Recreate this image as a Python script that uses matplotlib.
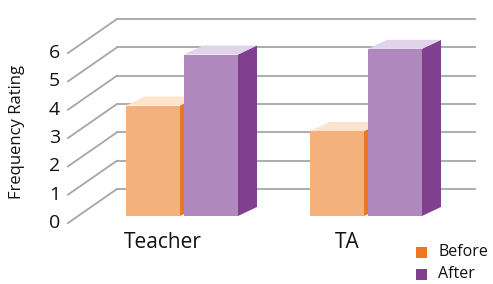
import matplotlib
matplotlib.use("Agg")
import matplotlib.pyplot as plt
from matplotlib.patches import Polygon, Rectangle

plt.rcParams['font.family'] = ['Open Sans', 'DejaVu Sans']

# data
categories = ["Teacher", "TA"]
series_names = ["Before", "After"]
before = [3.9, 3.0]
after = [5.7, 5.9]
y_ticks = [0, 1, 2, 3, 4, 5, 6]
y_label = "Frequency Rating"

# colours: front, side, top
BEFORE_C = ("#F5B17B", "#EE7623", "#FDE4CF")
AFTER_C = ("#AF89BD", "#813F8F", "#E1D3E9")
GRID_C = "#A6A6A6"
TXT = "#111111"

W, H = 493, 284
PX = 28.33          # pixels per rating unit
ZERO = 223          # pixel row of front zero

fig = plt.figure(figsize=(W / 100, H / 100), dpi=100)
ax = fig.add_axes([0, 0, 1, 1])
ax.set_xlim(0, W)
ax.set_ylim(-(H - ZERO) / PX, ZERO / PX)
ax.axis("off")

def py(pix):
    # pixel row -> rating units
    return (ZERO - pix) / PX

# walls: diagonal floor/side lines and horizontal back lines
wall_front_x, wall_back_x, wall_right_x = 68, 117, 475
wall_dv = 34 / PX
for t in y_ticks:
    ax.plot([wall_front_x, wall_back_x], [t, t + wall_dv], color=GRID_C, lw=1.3, zorder=1)
    ax.plot([wall_back_x, wall_right_x], [t + wall_dv, t + wall_dv], color=GRID_C, lw=1.3, zorder=1)
    ax.text(60, t, str(t), ha="right", va="center", fontsize=14, color=TXT)

ax.text(17, py(132), y_label, rotation=90, ha="center", va="center", fontsize=12, color=TXT)

# bars
base = py(216)
bar_w, gap = 54, 4
depth_dx, depth_dv = 19, 9 / PX
group_left = [126, 310]

def bar3d(x, h, cols):
    front, side, top = cols
    xr = x + bar_w
    t = base + h
    ax.add_patch(Polygon([(xr, base), (xr + depth_dx, base + depth_dv),
                          (xr + depth_dx, t + depth_dv), (xr, t)],
                         closed=True, fc=side, ec="none", zorder=3))
    ax.add_patch(Polygon([(x, t), (xr, t), (xr + depth_dx, t + depth_dv),
                          (x + depth_dx, t + depth_dv)],
                         closed=True, fc=top, ec="none", zorder=3))
    ax.add_patch(Rectangle((x, base), bar_w, h, fc=front, ec="none", zorder=3))

for i, cat in enumerate(categories):
    x0 = group_left[i]
    bar3d(x0, before[i], BEFORE_C)
    bar3d(x0 + bar_w + gap, after[i], AFTER_C)
    ax.text(x0 + 37, py(243), cat, ha="center", va="center", fontsize=15, color=TXT)

# legend
for k, (name, col) in enumerate(zip(series_names, [BEFORE_C[1], AFTER_C[1]])):
    top_pix = 247 + k * 22
    ax.add_patch(Rectangle((416, py(top_pix + 11)), 11, 11 / PX, fc=col, ec="none"))
    ax.text(438, py(top_pix + 5.5), name, ha="left", va="center", fontsize=11.5, color=TXT)

fig.savefig("out.png", dpi=100)
